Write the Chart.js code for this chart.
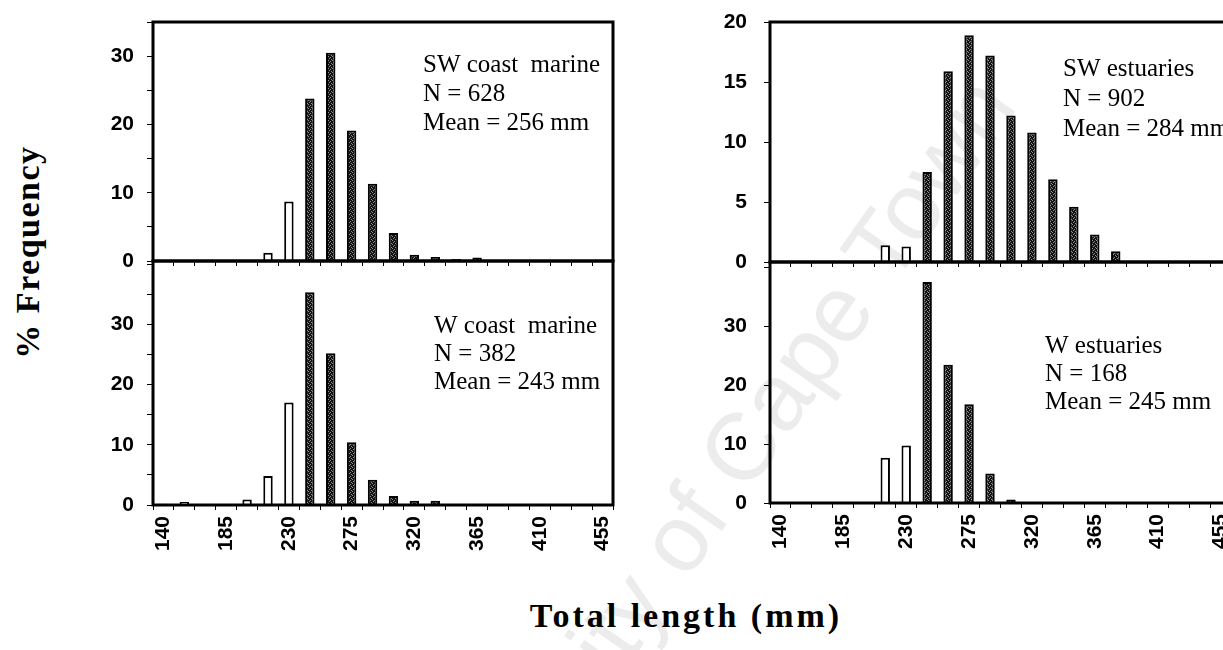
<!DOCTYPE html>
<html>
<head>
<meta charset="utf-8">
<script src="https://cdn.jsdelivr.net/npm/chart.js@4.4.1/dist/chart.umd.min.js"></script>
<style>
  html, body { margin: 0; padding: 0; background: #fff; }
  body { width: 1223px; height: 650px; overflow: hidden; position: relative; }
  canvas { position: absolute; }
  .txt { position: absolute; white-space: nowrap; line-height: 1; color: #000; }
  #wm { left: 699px; top: 507px; transform: translate(-50%, -50%) rotate(-55deg);
        font: 95px "Liberation Sans", sans-serif; color: #ececec; }
  #ytitle { left: 28px; top: 252px; transform: translate(-50%, -50%) rotate(-90deg);
        font: bold 34px "Liberation Serif", serif; letter-spacing: 1.5px; }
  #xtitle { left: 686px; top: 616px; transform: translate(-50%, -50%);
        font: bold 34px "Liberation Serif", serif; letter-spacing: 3px; }
</style>
</head>
<body>
<div id="wm" class="txt">University of Cape Town</div>
<canvas id="cTL" width="560" height="275" style="left:60px;top:0px"></canvas>
<canvas id="cBL" width="560" height="300" style="left:60px;top:255px"></canvas>
<canvas id="cTR" width="560" height="276" style="left:680px;top:0px"></canvas>
<canvas id="cBR" width="560" height="300" style="left:680px;top:256px"></canvas>
<div id="ytitle" class="txt">% Frequency</div>
<div id="xtitle" class="txt">Total length (mm)</div>
<script>
// ---- data ----
const categories = ['140','155','170','185','200','215','230','245','260','275','290',
                    '305','320','335','350','365','380','395','410','425','440','455'];
const tickLabels = ['140','185','230','275','320','365','410','455'];
const swCoastMarine = [0, 0, 0, 0, 0, 1.2, 8.7, 23.8, 30.5, 19.1, 11.3, 4.1, 0.9, 0.6, 0.3, 0.5, 0, 0, 0, 0, 0, 0];
const wCoastMarine  = [0.2, 0.5, 0, 0, 0.9, 4.8, 17.0, 35.3, 25.2, 10.4, 4.2, 1.5, 0.7, 0.7, 0, 0, 0, 0, 0, 0, 0, 0];
const swEstuaries   = [0, 0, 0, 0, 0, 1.4, 1.3, 7.5, 15.9, 18.9, 17.2, 12.2, 10.8, 6.9, 4.6, 2.3, 0.9, 0, 0, 0, 0, 0];
const wEstuaries    = [0, 0, 0, 0, 0, 7.7, 9.8, 37.6, 23.5, 16.8, 5.0, 0.6, 0, 0, 0, 0, 0, 0, 0, 0, 0, 0];
const swCoastMarineText = ['SW coast  marine', 'N = 628', 'Mean = 256 mm'];
const wCoastMarineText  = ['W coast  marine', 'N = 382', 'Mean = 243 mm'];
const swEstuariesText   = ['SW estuaries', 'N = 902', 'Mean = 284 mm'];
const wEstuariesText    = ['W estuaries', 'N = 168', 'Mean = 245 mm'];
const openClassMax = 230; // classes up to this length are drawn as open bars

// ---- styles ----
function makePattern() {
  const c = document.createElement('canvas');
  c.width = 4; c.height = 4;
  const g = c.getContext('2d');
  g.fillStyle = '#121212'; g.fillRect(0, 0, 4, 4);
  g.fillStyle = '#8c8c8c';
  [[0,0],[2,1],[1,2],[3,3]].forEach(p => g.fillRect(p[0], p[1], 1, 1));
  return g.createPattern(c, 'repeat');
}
const pattern = makePattern();

const framePlugin = {
  id: 'panelFrame',
  afterDraw(chart, args, opts) {
    const ctx = chart.ctx, ca = chart.chartArea;
    ctx.save();
    ctx.strokeStyle = '#000';
    ctx.lineWidth = 3;
    ctx.strokeRect(ca.left, ca.top, ca.right - ca.left, ca.bottom - ca.top);
    if (opts && opts.lines) {
      ctx.fillStyle = '#000';
      ctx.font = '25px "Liberation Serif", serif';
      ctx.textBaseline = 'alphabetic';
      ctx.textAlign = 'left';
      opts.lines.forEach((t, i) => ctx.fillText(t, opts.x, opts.y[i]));
    }
    ctx.restore();
  }
};

Chart.defaults.color = '#000';
Chart.defaults.font.family = '"Liberation Sans", Arial, sans-serif';

function makeChart(id, values, o) {
  return new Chart(document.getElementById(id), {
    type: 'bar',
    data: {
      labels: categories,
      datasets: [{
        data: values,
        backgroundColor: ctx => Number(categories[ctx.dataIndex]) <= openClassMax ? '#ffffff' : pattern,
        borderColor: '#000',
        borderWidth: 2,
        barPercentage: 0.45,
        categoryPercentage: 1
      }]
    },
    options: {
      responsive: false,
      animation: false,
      devicePixelRatio: 1,
      layout: { padding: o.padding, autoPadding: false },
      plugins: {
        legend: { display: false },
        tooltip: { enabled: false },
        panelFrame: { lines: o.lines, x: o.tx, y: o.ty }
      },
      scales: {
        x: {
          grid: { offset: true, drawOnChartArea: false, tickLength: 5, color: '#000', lineWidth: 1 },
          border: { display: false },
          ticks: {
            autoSkip: false,
            maxRotation: 90,
            minRotation: 90,
            padding: 6,
            font: { size: 21, weight: 'bold' },
            callback: (v, i) => (o.showX && tickLabels.includes(categories[i])) ? categories[i] : ''
          },
          afterFit: s => { s.height = o.xh; s.paddingLeft = 0; s.paddingRight = 0; }
        },
        y: {
          min: 0,
          max: o.max,
          bounds: 'data',
          grid: { drawOnChartArea: false, tickLength: 6, color: '#000', lineWidth: 1 },
          border: { display: false },
          ticks: {
            stepSize: 5,
            includeBounds: false,
            padding: o.yPad,
            font: { size: 21, weight: 'bold' },
            callback: o.yLabel
          },
          afterFit: s => { s.width = o.yw; s.paddingTop = 0; s.paddingBottom = 0; }
        }
      }
    },
    plugins: [framePlugin]
  });
}

const every10 = v => (v % 10 === 0 ? String(v) : '');
const every10Below40 = v => (v % 10 === 0 && v < 40 ? String(v) : '');
const every5 = v => String(v);

makeChart('cTL', swCoastMarine, {
  padding: { top: 22, right: 7, left: 0, bottom: 0 }, xh: 14, yw: 93, yPad: 13,
  max: 35, yLabel: every10, showX: false,
  lines: swCoastMarineText, tx: 423 - 60, ty: [72, 101, 130]
});
makeChart('cBL', wCoastMarine, {
  padding: { top: 6, right: 7, left: 0, bottom: 0 }, xh: 50, yw: 93, yPad: 13,
  max: 40.5, yLabel: every10Below40, showX: true,
  lines: wCoastMarineText, tx: 434 - 60, ty: [333 - 255, 361 - 255, 389 - 255]
});
makeChart('cTR', swEstuaries, {
  padding: { top: 22, right: 9, left: 0, bottom: 0 }, xh: 14, yw: 90, yPad: 17,
  max: 20, yLabel: every5, showX: false,
  lines: swEstuariesText, tx: 1063 - 680, ty: [76, 106, 136]
});
makeChart('cBR', wEstuaries, {
  padding: { top: 6, right: 9, left: 0, bottom: 0 }, xh: 53, yw: 90, yPad: 17,
  max: 41, yLabel: every10Below40, showX: true,
  lines: wEstuariesText, tx: 1045 - 680, ty: [353 - 256, 381 - 256, 409 - 256]
});
</script>
</body>
</html>
